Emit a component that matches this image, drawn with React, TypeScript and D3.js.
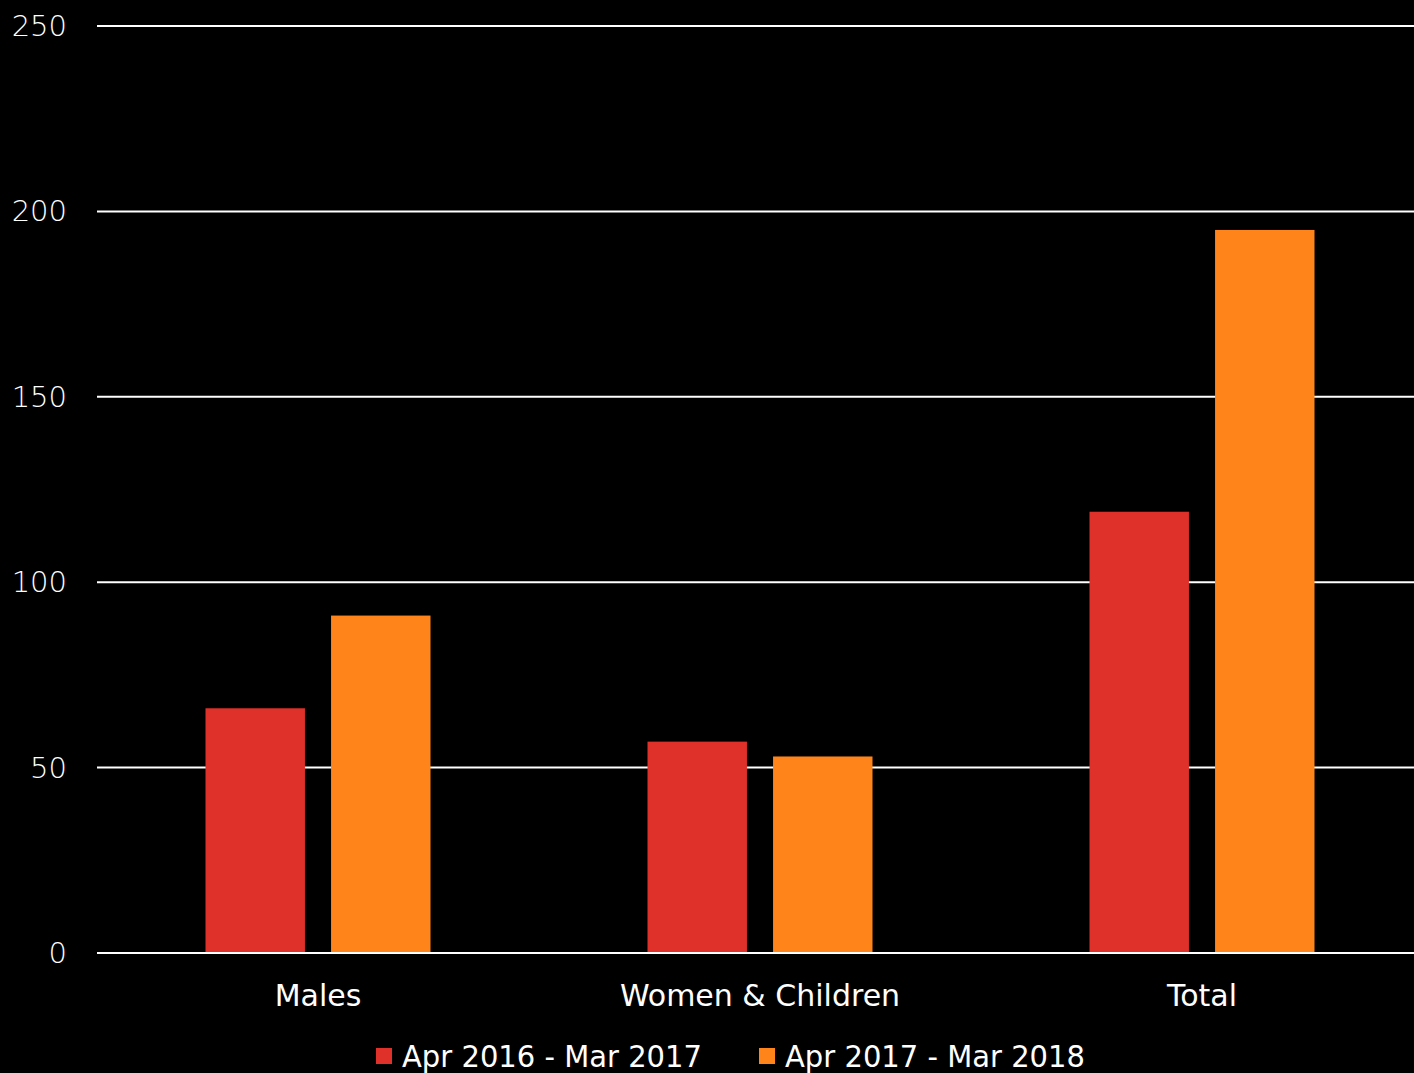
import React from "react";
import * as d3 from "d3";

const categories = ["Males", "Women & Children", "Total"];
const seriesNames = ["Apr 2016 - Mar 2017", "Apr 2017 - Mar 2018"];
const series2017 = [66, 57, 119];
const series2018 = [91, 53, 195];
const yTicks = [0, 50, 100, 150, 200, 250];
const colors = ["#E0302A", "#FF851B"];

const W = 1414;
const H = 1073;
const FONT = "'DejaVu Sans', 'Open Sans', sans-serif";

export default function App() {
  const seriesValues = [series2017, series2018];
  const y = d3.scaleLinear().domain([0, 250]).range([953, 26]);
  const x0 = d3.scaleBand<string>().domain(categories).range([97, 1423]).paddingInner(0).paddingOuter(0);
  const groupW = 225;
  const x1 = d3
    .scaleBand<string>()
    .domain(seriesNames)
    .range([0, groupW])
    .paddingInner(26 / 125)
    .paddingOuter(0);

  return (
    <svg
      width={W}
      height={H}
      style={{ position: "fixed", left: 0, top: 0, background: "#000" }}
    >
      <rect x={0} y={0} width={W} height={H} fill="#000" />
      {yTicks.map((t) => (
        <g key={t}>
          <line x1={97} x2={W} y1={y(t)} y2={y(t)} stroke="#fff" strokeWidth={2} />
          <text
            x={67}
            y={y(t) + 10}
            textAnchor="end"
            fill="#fff"
            fontFamily={FONT}
            fontSize={29}
            fontWeight={300}
          >
            {t}
          </text>
        </g>
      ))}
      {categories.map((c, ci) => {
        const gx = (x0(c) as number) + x0.bandwidth() / 2 - groupW / 2;
        return (
          <g key={c}>
            {seriesNames.map((s, si) => {
              const v = seriesValues[si][ci];
              return (
                <rect
                  key={s}
                  x={gx + (x1(s) as number)}
                  y={y(v)}
                  width={x1.bandwidth()}
                  height={y(0) - y(v) - 1}
                  fill={colors[si]}
                />
              );
            })}
            <text
              x={(x0(c) as number) + x0.bandwidth() / 2}
              y={1006}
              textAnchor="middle"
              fill="#fff"
              fontFamily={FONT}
              fontSize={30}
            >
              {c}
            </text>
          </g>
        );
      })}
      {seriesNames.map((s, si) => {
        const lx = [376, 759][si];
        return (
          <g key={s}>
            <rect x={lx} y={1048} width={16} height={16} fill={colors[si]} />
            <text
              x={lx + 26}
              y={1067}
              fill="#fff"
              fontFamily={FONT}
              fontSize={30}
              textLength={300}
              lengthAdjust="spacingAndGlyphs"
            >
              {s}
            </text>
          </g>
        );
      })}
    </svg>
  );
}
